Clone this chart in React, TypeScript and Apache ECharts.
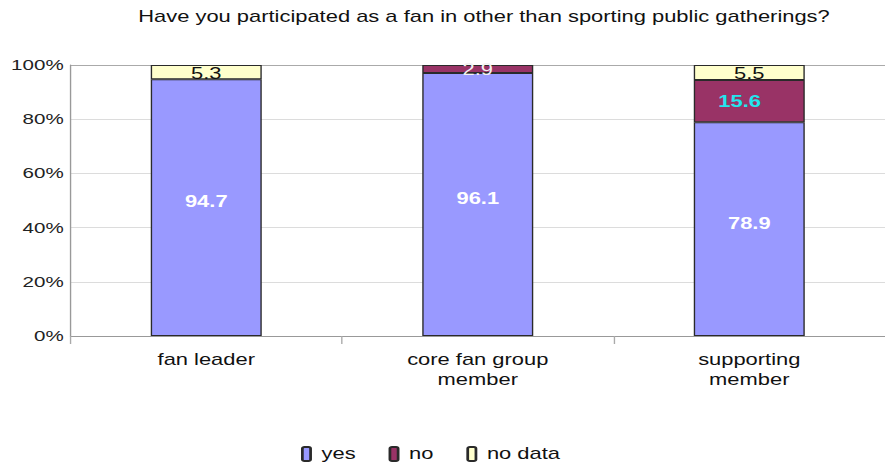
import React, { useEffect, useRef } from "react";
import * as echarts from "echarts";

const categories = ["fan leader", "core fan group\nmember", "supporting\nmember"];
const yesValues = [94.7, 96.1, 78.9];
const noValues = [0, 2.9, 15.6];
const noDataValues = [5.3, 0, 5.5];
const yTickLabels = ["0%", "20%", "40%", "60%", "80%", "100%"];
const title = "Have you participated as a fan in other than sporting public gatherings?";

const FONT = "'Liberation Sans', Arial, sans-serif";
const STRETCH = 1.37;
const INNER_W = 885 / STRETCH;

export default function App() {
  const ref = useRef<HTMLDivElement>(null);
  useEffect(() => {
    if (!ref.current) return;
    const chart = echarts.init(ref.current, undefined, { renderer: "svg" });
    const totals = categories.map((_, i) => yesValues[i] + noValues[i] + noDataValues[i]);
    const pct = (arr: number[], extra?: (i: number) => any) =>
      arr.map((v, i) => {
        if (!v) return null;
        const item: any = { value: (v / totals[i]) * 100, raw: v };
        if (extra) Object.assign(item, extra(i));
        return item;
      });
    const itemBorder = { borderColor: "#2a2a2a", borderWidth: 1 };
    const fmt = (p: any) => (p.data && p.data.raw ? String(p.data.raw) : "");
    chart.setOption({
      animation: false,
      textStyle: { fontFamily: FONT },
      title: {
        text: title,
        left: 484 / STRETCH,
        textAlign: "center",
        top: 9,
        padding: 0,
        textStyle: { fontFamily: FONT, fontSize: 16, fontWeight: "normal", color: "#111" },
      },
      legend: {
        left: 301 / STRETCH,
        top: 446,
        padding: 0,
        itemWidth: 6,
        itemHeight: 14,
        itemGap: 24,
        textStyle: { fontFamily: FONT, fontSize: 16, color: "#111", padding: [5, 0, 0, 3] },
        data: ["yes", "no", "no data"],
      },
      grid: { left: 70.5 / STRETCH, right: INNER_W - 897 / STRETCH, top: 65, bottom: 130 },
      xAxis: {
        type: "category",
        data: categories,
        axisLine: { lineStyle: { color: "#999" } },
        axisTick: { show: true, length: 8, lineStyle: { color: "#aaa" } },
        axisLabel: { fontFamily: FONT, fontSize: 16, color: "#111", margin: 14, lineHeight: 20 },
      },
      yAxis: {
        type: "value",
        min: 0,
        max: 100,
        interval: 20,
        axisLine: { show: true, lineStyle: { color: "#999" } },
        axisTick: { show: false },
        splitLine: {
          lineStyle: { color: ["#dcdcdc", "#dcdcdc", "#dcdcdc", "#dcdcdc", "#dcdcdc", "#aaaaaa"] },
        },
        axisLabel: {
          fontFamily: FONT,
          fontSize: 15,
          color: "#222",
          margin: 5,
          padding: [0, 0, 8, 0],
          formatter: (v: number) => yTickLabels[Math.round(v / 20)],
        },
      },
      series: [
        {
          name: "yes",
          type: "bar",
          stack: "s",
          barWidth: 111 / STRETCH,
          itemStyle: { color: "#9999FF", ...itemBorder },
          label: {
            show: true,
            position: "inside",
            offset: [0, -6],
            formatter: fmt,
            color: "#fff",
            fontWeight: "bold",
            fontSize: 16,
            fontFamily: FONT,
          },
          data: pct(yesValues),
        },
        {
          name: "no",
          type: "bar",
          stack: "s",
          itemStyle: { color: "#993366", ...itemBorder },
          label: {
            show: true,
            position: "inside",
            offset: [0, 1],
            formatter: fmt,
            color: "#f2f2f2",
            fontSize: 16,
            fontFamily: FONT,
          },
          data: pct(noValues, (i) =>
            noValues[i] > 10
              ? { label: { color: "#22e6ee", fontWeight: "bold", offset: [-7, 1] } }
              : {}
          ),
        },
        {
          name: "no data",
          type: "bar",
          stack: "s",
          itemStyle: { color: "#FFFFCC", ...itemBorder },
          label: {
            show: true,
            position: "inside",
            offset: [0, 1],
            formatter: fmt,
            color: "#111",
            fontSize: 16,
            fontFamily: FONT,
          },
          data: pct(noDataValues),
        },
      ],
    });
    return () => chart.dispose();
  }, []);
  return (
    <div
      style={{
        position: "fixed",
        left: 0,
        top: 0,
        width: 885,
        height: 466,
        overflow: "hidden",
        background: "#fff",
      }}
    >
      <div
        ref={ref}
        style={{
          width: INNER_W,
          height: 466,
          transform: `scaleX(${STRETCH})`,
          transformOrigin: "0 0",
        }}
      />
    </div>
  );
}
